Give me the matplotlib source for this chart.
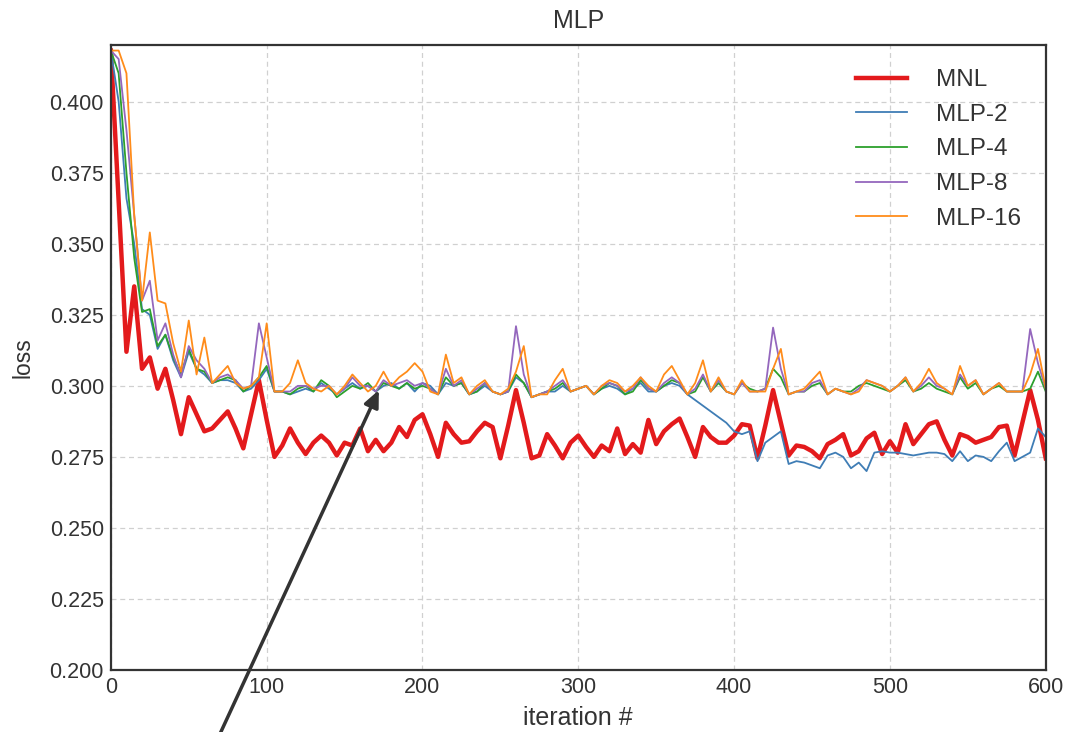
import matplotlib
matplotlib.use("Agg")
import matplotlib.pyplot as plt
import numpy as np

plt.rcParams['font.family'] = ['Liberation Sans', 'DejaVu Sans']

iters = np.arange(0, 601, 5)

mnl = [0.418, 0.365, 0.312, 0.335, 0.306, 0.310, 0.299, 0.306, 0.295, 0.283,
       0.296, 0.290, 0.284, 0.285, 0.288, 0.291, 0.285, 0.278, 0.290, 0.302,
       0.288, 0.275, 0.279, 0.285, 0.280, 0.276, 0.280, 0.2825, 0.280, 0.2755,
       0.280, 0.279, 0.285, 0.277, 0.281, 0.277, 0.280, 0.2855, 0.282, 0.288,
       0.290, 0.283, 0.275, 0.287, 0.283, 0.280, 0.2805, 0.284, 0.287, 0.2855,
       0.2745, 0.286, 0.2985, 0.287, 0.2745, 0.2755, 0.283, 0.279, 0.2745, 0.280,
       0.2825, 0.2785, 0.275, 0.279, 0.277, 0.285, 0.276, 0.2795, 0.2765, 0.288,
       0.2795, 0.284, 0.2865, 0.2885, 0.282, 0.275, 0.2855, 0.282, 0.280, 0.280,
       0.2825, 0.2865, 0.286, 0.2745, 0.286, 0.2985, 0.287, 0.2755, 0.279, 0.2785,
       0.277, 0.2745, 0.2795, 0.281, 0.283, 0.2755, 0.277, 0.2815, 0.2835, 0.276,
       0.2805, 0.2765, 0.2865, 0.2795, 0.283, 0.2865, 0.2875, 0.281, 0.2755, 0.283,
       0.282, 0.280, 0.281, 0.282, 0.2855, 0.286, 0.2755, 0.287, 0.2985, 0.288,
       0.2745]

mlp2 = [0.418, 0.400, 0.366, 0.350, 0.327, 0.325, 0.313, 0.318, 0.309, 0.303,
        0.312, 0.306, 0.304, 0.301, 0.302, 0.302, 0.301, 0.298, 0.299, 0.302,
        0.306, 0.298, 0.298, 0.297, 0.298, 0.299, 0.298, 0.301, 0.299, 0.297,
        0.299, 0.301, 0.299, 0.300, 0.298, 0.300, 0.301, 0.299, 0.301, 0.298,
        0.301, 0.300, 0.297, 0.301, 0.300, 0.301, 0.297, 0.298, 0.300, 0.298,
        0.297, 0.298, 0.303, 0.301, 0.296, 0.297, 0.298, 0.298, 0.300, 0.298,
        0.299, 0.300, 0.297, 0.299, 0.300, 0.299, 0.297, 0.299, 0.301, 0.298,
        0.298, 0.300, 0.301, 0.300, 0.297, 0.295, 0.293, 0.291, 0.289, 0.287,
        0.284, 0.283, 0.284, 0.2735, 0.280, 0.282, 0.284, 0.2725, 0.2735, 0.273,
        0.272, 0.271, 0.2755, 0.2765, 0.275, 0.271, 0.273, 0.270, 0.2765, 0.277,
        0.2765, 0.2765, 0.276, 0.2755, 0.276, 0.2765, 0.2765, 0.276, 0.2735, 0.277,
        0.2735, 0.2755, 0.275, 0.2735, 0.277, 0.280, 0.2735, 0.275, 0.2765, 0.285,
        0.282]

mlp4 = [0.418, 0.410, 0.375, 0.345, 0.326, 0.327, 0.314, 0.318, 0.310, 0.304,
        0.313, 0.306, 0.305, 0.301, 0.302, 0.303, 0.302, 0.298, 0.300, 0.303,
        0.307, 0.298, 0.298, 0.297, 0.299, 0.300, 0.298, 0.302, 0.300, 0.296,
        0.298, 0.300, 0.299, 0.301, 0.298, 0.301, 0.300, 0.299, 0.301, 0.299,
        0.300, 0.299, 0.297, 0.303, 0.300, 0.301, 0.297, 0.298, 0.301, 0.298,
        0.297, 0.298, 0.304, 0.301, 0.296, 0.297, 0.298, 0.299, 0.301, 0.298,
        0.299, 0.300, 0.297, 0.299, 0.301, 0.300, 0.297, 0.298, 0.302, 0.299,
        0.298, 0.300, 0.302, 0.301, 0.297, 0.298, 0.303, 0.298, 0.301, 0.298,
        0.297, 0.301, 0.299, 0.298, 0.299, 0.306, 0.303, 0.297, 0.298, 0.298,
        0.300, 0.301, 0.297, 0.299, 0.298, 0.298, 0.300, 0.301, 0.300, 0.299,
        0.298, 0.300, 0.302, 0.298, 0.299, 0.301, 0.299, 0.298, 0.297, 0.303,
        0.299, 0.301, 0.297, 0.299, 0.300, 0.298, 0.298, 0.298, 0.299, 0.305,
        0.298]

mlp8 = [0.418, 0.415, 0.390, 0.360, 0.330, 0.337, 0.316, 0.322, 0.311, 0.303,
        0.314, 0.309, 0.306, 0.301, 0.303, 0.304, 0.302, 0.299, 0.300, 0.322,
        0.310, 0.298, 0.298, 0.298, 0.300, 0.300, 0.299, 0.300, 0.300, 0.297,
        0.299, 0.303, 0.300, 0.300, 0.298, 0.302, 0.300, 0.301, 0.302, 0.300,
        0.301, 0.299, 0.297, 0.306, 0.300, 0.302, 0.297, 0.299, 0.301, 0.298,
        0.297, 0.298, 0.321, 0.304, 0.296, 0.297, 0.298, 0.300, 0.302, 0.298,
        0.299, 0.300, 0.297, 0.300, 0.301, 0.300, 0.298, 0.299, 0.303, 0.299,
        0.298, 0.301, 0.303, 0.301, 0.297, 0.299, 0.304, 0.298, 0.302, 0.298,
        0.297, 0.301, 0.298, 0.298, 0.299, 0.3205, 0.306, 0.297, 0.298, 0.298,
        0.301, 0.302, 0.297, 0.299, 0.298, 0.297, 0.299, 0.302, 0.301, 0.300,
        0.298, 0.300, 0.303, 0.298, 0.300, 0.303, 0.300, 0.299, 0.297, 0.304,
        0.300, 0.302, 0.297, 0.299, 0.301, 0.298, 0.298, 0.298, 0.320, 0.308,
        0.299]

mlp16 = [0.418, 0.418, 0.410, 0.360, 0.330, 0.354, 0.330, 0.329, 0.315, 0.305,
         0.323, 0.304, 0.317, 0.301, 0.304, 0.307, 0.301, 0.299, 0.300, 0.303,
         0.322, 0.298, 0.298, 0.301, 0.309, 0.301, 0.299, 0.298, 0.300, 0.297,
         0.300, 0.304, 0.301, 0.298, 0.300, 0.305, 0.300, 0.303, 0.305, 0.308,
         0.305, 0.298, 0.297, 0.311, 0.301, 0.303, 0.297, 0.300, 0.302, 0.298,
         0.297, 0.299, 0.305, 0.314, 0.296, 0.297, 0.297, 0.302, 0.306, 0.298,
         0.299, 0.300, 0.297, 0.300, 0.302, 0.301, 0.298, 0.300, 0.303, 0.300,
         0.298, 0.304, 0.307, 0.302, 0.297, 0.301, 0.309, 0.298, 0.303, 0.298,
         0.297, 0.302, 0.298, 0.298, 0.298, 0.306, 0.313, 0.297, 0.298, 0.299,
         0.302, 0.305, 0.297, 0.299, 0.298, 0.297, 0.298, 0.302, 0.301, 0.300,
         0.298, 0.300, 0.303, 0.298, 0.301, 0.306, 0.301, 0.299, 0.297, 0.307,
         0.300, 0.302, 0.297, 0.299, 0.301, 0.298, 0.298, 0.298, 0.304, 0.313,
         0.299]

series = [("MNL", mnl, "#e31a1c", 3.2),
          ("MLP-2", mlp2, "#3f7db5", 1.3),
          ("MLP-4", mlp4, "#2ca02c", 1.3),
          ("MLP-8", mlp8, "#9467bd", 1.3),
          ("MLP-16", mlp16, "#ff8c1a", 1.3)]

fig = plt.figure(figsize=(10.66, 7.32), dpi=100)
ax = fig.add_axes([0.104, 0.0847, 0.877, 0.854])

for name, vals, col, lw in series:
    ax.plot(iters, vals, color=col, linewidth=lw, label=name)

ax.set_xlim(0, 600)
ax.set_ylim(0.2, 0.42)
ax.set_xticks(np.arange(0, 601, 100))
ax.set_yticks(np.arange(0.2, 0.401, 0.025))
ax.set_yticklabels([f"{v:.3f}" for v in np.arange(0.2, 0.401, 0.025)])
ax.tick_params(length=0, labelsize=15.5, colors="#333333", pad=5)
ax.grid(True, linestyle=(0, (4, 3)), color="#d0d0d0", linewidth=0.9)
ax.set_axisbelow(True)
for sp in ax.spines.values():
    sp.set_linewidth(1.6)
    sp.set_color("#333333")

ax.set_title("MLP", fontsize=18, color="#333333", pad=12)
ax.set_xlabel("iteration #", fontsize=18, color="#333333", labelpad=6)
ax.set_ylabel("loss", fontsize=16.5, color="#333333", labelpad=11)

leg = ax.legend(loc="upper right", frameon=False, fontsize=17.5,
                handlelength=2.1, handletextpad=1.2, borderaxespad=0.6,
                labelspacing=0.52)
for t in leg.get_texts():
    t.set_color("#333333")

ax.annotate("", xy=(172, 0.2985), xycoords="data",
            xytext=(0.204, -0.01), textcoords="figure fraction",
            annotation_clip=False,
            arrowprops=dict(arrowstyle="-|>,head_length=1.0,head_width=0.45",
                            color="#333333", lw=2.5, shrinkA=0, shrinkB=0))

fig.savefig("out.png", dpi=100)
